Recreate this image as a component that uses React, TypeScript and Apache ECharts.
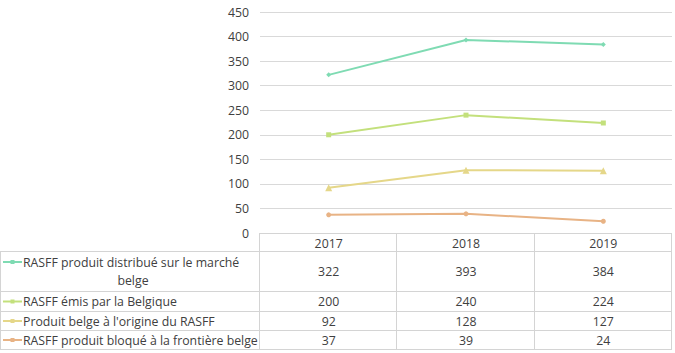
import React, { useEffect, useRef } from "react";
import * as echarts from "echarts";

const years = ["2017", "2018", "2019"];
const seriesNames = [
  "RASFF produit distribué sur le marché belge",
  "RASFF émis par la Belgique",
  "Produit belge à l'origine du RASFF",
  "RASFF produit bloqué à la frontière belge",
];
const seriesLabelLines = [
  ["RASFF produit distribué sur le marché", "belge"],
  ["RASFF émis par la Belgique"],
  ["Produit belge à l'origine du RASFF"],
  ["RASFF produit bloqué à la frontière belge"],
];
const distribue = [322, 393, 384];
const emis = [200, 240, 224];
const origine = [92, 128, 127];
const bloque = [37, 39, 24];
const allValues = [distribue, emis, origine, bloque];
const colors = ["#7fdbb3", "#c3e07c", "#e5d789", "#e8b385"];
const symbols = ["diamond", "rect", "triangle", "circle"];

const FONT = "Open Sans";
const TXT = "#404040";
const BORDER = "#d4d4d4";
const FS = 12.3;

export default function App() {
  const ref = useRef<HTMLDivElement>(null);
  useEffect(() => {
    const chart = echarts.init(ref.current!, null, { renderer: "svg" });
    const gridLeft = 260;
    const gridRight = 3;
    const gridTop = 12;
    const gridBottom = 120;
    chart.setOption({
      animation: false,
      grid: { left: gridLeft, right: gridRight, top: gridTop, bottom: gridBottom },
      xAxis: {
        type: "category",
        data: years,
        boundaryGap: true,
        axisLine: { show: false },
        axisTick: { show: false },
        axisLabel: { show: false },
      },
      yAxis: {
        type: "value",
        min: 0,
        max: 450,
        interval: 50,
        axisLine: { show: false },
        axisTick: { show: false },
        axisLabel: { color: TXT, fontFamily: FONT, fontSize: FS, margin: 11 },
        splitLine: { lineStyle: { color: "#d9d9d9", width: 1 } },
      },
      series: allValues.map((vals, i) => ({
        type: "line",
        name: seriesNames[i],
        data: vals,
        symbol: symbols[i],
        symbolSize: i === 2 ? 7 : 5,
        showSymbol: true,
        lineStyle: { color: colors[i], width: 2 },
        itemStyle: { color: colors[i] },
      })),
    });

    const W = 675;
    const plotRight = W - gridRight;
    const headerTop = 353 - gridBottom;
    const rowHeights = [18, 40, 20, 19, 19];
    const rowTops: number[] = [headerTop];
    rowHeights.forEach((h, i) => rowTops.push(rowTops[i] + h));
    const tableBottom = rowTops[rowTops.length - 1];
    const colW = (plotRight - gridLeft) / years.length;
    const els: any[] = [];
    const font = `${FS}px "${FONT}"`;
    const line = (x1: number, y1: number, x2: number, y2: number) =>
      els.push({
        type: "line",
        shape: { x1, y1, x2, y2 },
        style: { stroke: BORDER, lineWidth: 1 },
        silent: true,
      });
    line(gridLeft, headerTop + 0.5, plotRight, headerTop + 0.5);
    for (let r = 1; r < rowTops.length; r++) {
      line(0, rowTops[r] + 0.5, plotRight, rowTops[r] + 0.5);
    }
    line(0.5, rowTops[1], 0.5, tableBottom);
    for (let c = 0; c <= years.length; c++) {
      const x = Math.round(gridLeft + c * colW) - 0.5;
      line(x, headerTop, x, tableBottom);
    }
    years.forEach((y, c) => {
      const cx = chart.convertToPixel({ xAxisIndex: 0 }, c) as number;
      els.push({
        type: "text",
        x: cx,
        y: headerTop + rowHeights[0] / 2 + 1,
        style: { text: y, fill: TXT, font, align: "center", verticalAlign: "middle" },
      });
    });
    allValues.forEach((vals, r) => {
      const top = rowTops[r + 1];
      const h = rowHeights[r + 1];
      const midY = top + h / 2 + 0.5;
      vals.forEach((v, c) => {
        const cx = chart.convertToPixel({ xAxisIndex: 0 }, c) as number;
        els.push({
          type: "text",
          x: cx,
          y: midY,
          style: { text: String(v), fill: TXT, font, align: "center", verticalAlign: "middle" },
        });
      });
      const lines = seriesLabelLines[r];
      const keyY = lines.length > 1 ? top + 11 : midY;
      els.push({
        type: "line",
        shape: { x1: 3, y1: keyY, x2: 22, y2: keyY },
        style: { stroke: colors[r], lineWidth: 2 },
      });
      els.push({
        type: "rect",
        shape: { x: 10.5, y: keyY - 2, width: 4, height: 4 },
        style: { fill: colors[r] },
      });
      if (lines.length > 1) {
        els.push({
          type: "text",
          x: 23,
          y: top + 11,
          style: { text: lines[0], fill: TXT, font, align: "left", verticalAlign: "middle" },
        });
        els.push({
          type: "text",
          x: 133,
          y: top + 29,
          style: { text: lines[1], fill: TXT, font, align: "center", verticalAlign: "middle" },
        });
      } else {
        els.push({
          type: "text",
          x: 23,
          y: midY,
          style: { text: lines[0], fill: TXT, font, align: "left", verticalAlign: "middle" },
        });
      }
    });
    chart.setOption({ graphic: { elements: els } });
    return () => chart.dispose();
  }, []);
  return <div ref={ref} style={{ width: 675, height: 353, position: "absolute", left: 0, top: 0, background: "#fff" }} />;
}
